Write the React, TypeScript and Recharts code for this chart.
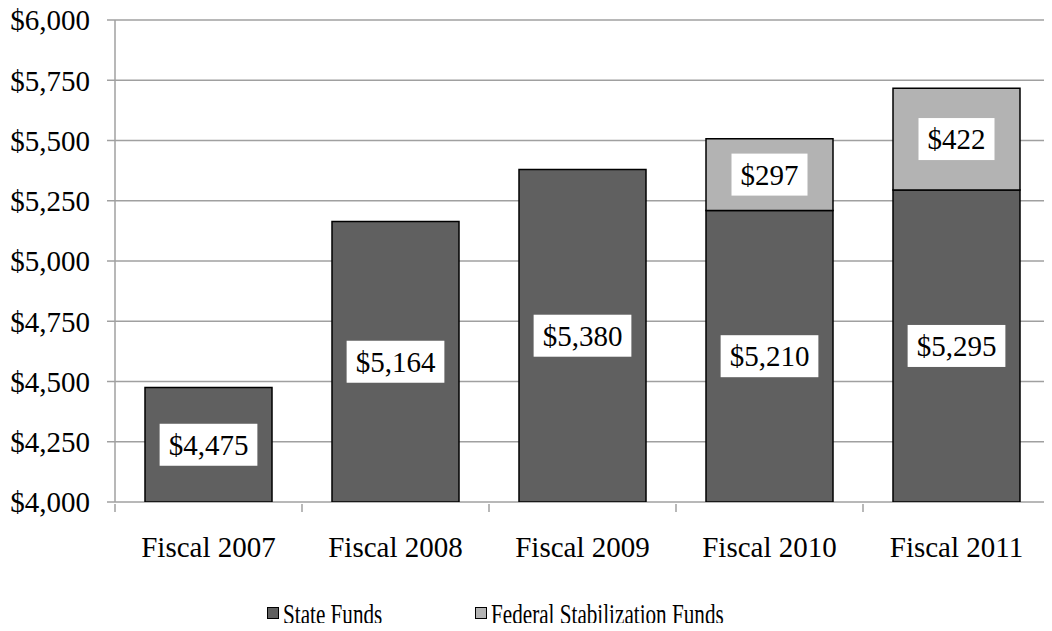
import { Bar, BarChart, CartesianGrid, LabelList, XAxis, YAxis } from "recharts"

const years = ["Fiscal 2007", "Fiscal 2008", "Fiscal 2009", "Fiscal 2010", "Fiscal 2011"]
const stateFunds = [4475, 5164, 5380, 5210, 5295]
const federalFunds = [null, null, null, 297, 422]
const yTicks = [4000, 4250, 4500, 4750, 5000, 5250, 5500, 5750, 6000]
const seriesNames = ["State Funds", "Federal Stabilization Funds"]

const data = years.map((year, i) => ({
  year,
  state: stateFunds[i],
  federal: federalFunds[i],
}))

const FONT = "'Liberation Serif', 'Times New Roman', serif"
const DARK = "#606060"
const LIGHT = "#b3b3b3"
const GRID = "#a0a0a0"
const FS = 29

const money = (v: number) => "$" + v.toLocaleString("en-US")

function textWidth(s: string) {
  let w = 0
  for (const c of s) w += c === "," ? FS * 0.25 : FS * 0.5
  return w
}

function BoxLabel(props: any) {
  const { x, y, width, height, value } = props
  if (value == null) return null
  const text = money(value)
  const w = textWidth(text) + 18
  const h = 42
  const cx = x + width / 2
  const cy = y + height / 2
  return (
    <g>
      <rect x={cx - w / 2} y={cy - h / 2} width={w} height={h} fill="#fff" />
      <text x={cx} y={cy} dy="0.35em" textAnchor="middle" fontFamily={FONT} fontSize={FS} fill="#000">
        {text}
      </text>
    </g>
  )
}

function CategoryTick(props: any) {
  const { x, y, payload, index } = props
  const half = 935 / 5 / 2
  return (
    <g>
      <line x1={x - half} y1={y} x2={x - half} y2={y + 8} stroke={GRID} strokeWidth={1.5} />
      {index === years.length - 1 && (
        <line x1={x + half} y1={y} x2={x + half} y2={y + 8} stroke={GRID} strokeWidth={1.5} />
      )}
      <text x={x} y={y + 53} textAnchor="middle" fontFamily={FONT} fontSize={FS} fill="#000">
        {payload.value}
      </text>
    </g>
  )
}

function LegendRow() {
  const items = [
    { name: seriesNames[0], color: DARK, left: 267 },
    { name: seriesNames[1], color: LIGHT, left: 475 },
  ]
  return (
    <svg width={1052} height={631} style={{ position: "absolute", left: 0, top: 0, pointerEvents: "none" }}>
      {items.map((it) => (
        <g key={it.name}>
          <rect x={it.left + 0.5} y={607.5} width={11} height={11} fill={it.color} stroke="#000" strokeWidth={1} />
          <text
            transform={`translate(${it.left + 16} 624) scale(0.73 1)`}
            fontFamily={FONT}
            fontSize={FS}
            fill="#000"
          >
            {it.name}
          </text>
        </g>
      ))}
    </svg>
  )
}

export default function App() {
  return (
    <div style={{ margin: -8, width: 1052, height: 631, background: "#fff", position: "relative", overflow: "hidden" }}>
      <BarChart
        width={1052}
        height={631}
        data={data}
        margin={{ top: 20, right: 2, bottom: 0, left: 0 }}
      >
        <CartesianGrid vertical={false} stroke={GRID} strokeWidth={1.5} />
        <XAxis
          dataKey="year"
          axisLine={false}
          tickLine={false}
          tickSize={0}
          height={129}
          interval={0}
          tick={<CategoryTick />}
        />
        <YAxis
          domain={[4000, 6000]}
          ticks={yTicks}
          allowDataOverflow
          width={115}
          tickSize={8}
          tickMargin={17}
          stroke={GRID}
          strokeWidth={1.5}
          tickFormatter={money}
          tick={{ fontFamily: FONT, fontSize: FS, fill: "#000" }}
        />
        <Bar dataKey="state" name={seriesNames[0]} stackId="a" fill={DARK} stroke="#000" strokeWidth={1.5} barSize={127} isAnimationActive={false}>
          <LabelList dataKey="state" content={<BoxLabel />} />
        </Bar>
        <Bar dataKey="federal" name={seriesNames[1]} stackId="a" fill={LIGHT} stroke="#000" strokeWidth={1.5} barSize={127} isAnimationActive={false}>
          <LabelList dataKey="federal" content={<BoxLabel />} />
        </Bar>
      </BarChart>
      <LegendRow />
    </div>
  )
}
